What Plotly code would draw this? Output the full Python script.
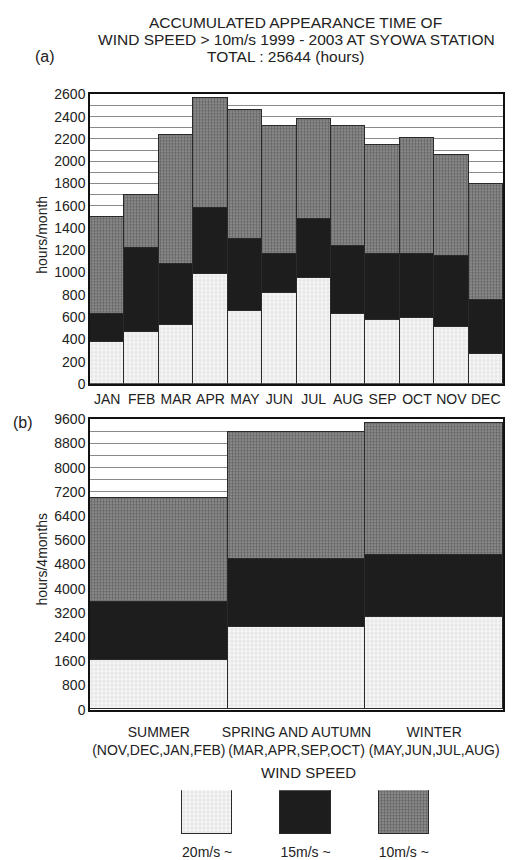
import plotly.graph_objects as go

# ---------------- data ----------------
months = ["JAN", "FEB", "MAR", "APR", "MAY", "JUN", "JUL", "AUG", "SEP", "OCT", "NOV", "DEC"]
m_20 = [375, 463, 522, 985, 650, 810, 952, 624, 574, 586, 509, 264]
m_15 = [250, 757, 548, 595, 644, 355, 527, 612, 591, 579, 633, 483]
m_10 = [869, 477, 1159, 982, 1165, 1147, 895, 1077, 978, 1040, 908, 1048]

seasons = ["SUMMER<br>(NOV,DEC,JAN,FEB)",
           "SPRING AND AUTUMN<br>(MAR,APR,SEP,OCT)",
           "WINTER<br>(MAY,JUN,JUL,AUG)"]
s_20 = [1635, 2717, 3042]
s_15 = [1905, 2273, 2068]
s_10 = [3460, 4168, 4351]

speed_labels = ["20m/s ~", "15m/s ~", "10m/s ~"]
legend_height = [1, 1, 1]

# ---------------- styles ----------------
W, H = 527, 860
FONT = "Liberation Sans, Arial, sans-serif"
TXT = "#222222"
EDGE = dict(color="#2a2a2a", width=1)

def m20():
    return dict(color="#f2f2f2", line=EDGE,
                pattern=dict(shape="+", fgcolor="#a8a8a8", bgcolor="#f6f6f6",
                             size=4, solidity=0.2))

def m15():
    return dict(color="#1d1d1d", line=EDGE)

def m10():
    return dict(color="#858585", line=EDGE,
                pattern=dict(shape=".", fgcolor="#333333", bgcolor="#939393",
                             size=3, solidity=0.5))

def px_x(p):
    return p / W

def px_y(p):
    return 1 - p / H

fig = go.Figure()

# panel (a)
for vals, mk in ((m_20, m20()), (m_15, m15()), (m_10, m10())):
    fig.add_trace(go.Bar(x=months, y=vals, marker=mk, xaxis="x", yaxis="y",
                         showlegend=False, hoverinfo="skip"))
# panel (b)
for vals, mk in ((s_20, m20()), (s_15, m15()), (s_10, m10())):
    fig.add_trace(go.Bar(x=seasons, y=vals, marker=mk, xaxis="x2", yaxis="y2",
                         showlegend=False, hoverinfo="skip"))
# legend swatches
for i, mk in enumerate((m20(), m15(), m10())):
    fig.add_trace(go.Bar(x=[speed_labels[i]], y=[legend_height[i]], marker=mk,
                         width=0.51, xaxis="x3", yaxis="y3",
                         showlegend=False, hoverinfo="skip"))

axis_common = dict(showline=True, linecolor="#111111", linewidth=1.5, mirror=True,
                   tickfont=dict(family=FONT, size=14, color=TXT), zeroline=False)

fig.update_layout(
    width=W, height=H,
    margin=dict(l=0, r=0, t=0, b=0),
    paper_bgcolor="white", plot_bgcolor="white",
    barmode="stack", bargap=0,
    font=dict(family=FONT, color=TXT),
    xaxis=dict(domain=[px_x(90), px_x(503)], anchor="y", range=[-0.5, 11.5],
               ticks="", tickangle=0, ticklabelstandoff=2, showgrid=False, **axis_common),
    yaxis=dict(domain=[px_y(383), px_y(88)], anchor="x", range=[0, 2600],
               dtick=200, ticks="", showgrid=True, gridcolor="#8a8a8a", gridwidth=1,
               minor=dict(dtick=100, showgrid=True, gridcolor="#8a8a8a", gridwidth=1),
               **axis_common),
    xaxis2=dict(domain=[px_x(90), px_x(503)], anchor="y2", range=[-0.5, 2.5],
                ticks="", tickangle=0, ticklabelstandoff=9, showgrid=False, **axis_common),
    yaxis2=dict(domain=[px_y(715), px_y(419)], anchor="x2", range=[0, 9600],
                dtick=800, ticks="", showgrid=True, gridcolor="#8a8a8a", gridwidth=1,
                minor=dict(dtick=400, showgrid=True, gridcolor="#8a8a8a", gridwidth=1),
                **axis_common),
    xaxis3=dict(domain=[px_x(158), px_x(453)], anchor="y3", range=[-0.5, 2.5],
                showline=False, ticks="", tickangle=0, ticklabelstandoff=8,
                showgrid=False, zeroline=False,
                tickfont=dict(family=FONT, size=14, color=TXT)),
    yaxis3=dict(domain=[px_y(842), px_y(797)], anchor="x3", range=[0, 1],
                visible=False),
)

ann = [
    dict(text="ACCUMULATED APPEARANCE TIME OF", x=px_x(295), y=px_y(15), size=15.5),
    dict(text="WIND SPEED &gt; 10m/s 1999 - 2003 AT SYOWA STATION", x=px_x(296), y=px_y(32), size=15.5),
    dict(text="TOTAL : 25644 (hours)", x=px_x(285), y=px_y(49), size=15.5),
    dict(text="(a)", x=px_x(45), y=px_y(49), size=16),
    dict(text="(b)", x=px_x(23), y=px_y(422), size=16),
    dict(text="WIND SPEED", x=px_x(308), y=px_y(779), size=15),
]
for a in ann:
    fig.add_annotation(text=a["text"], x=a["x"], y=a["y"], xref="paper", yref="paper",
                       showarrow=False, xanchor="center", yanchor="middle",
                       font=dict(family=FONT, size=a["size"], color=TXT))

fig.add_annotation(text="hours/month", x=px_x(42), y=px_y(231), xref="paper", yref="paper",
                   showarrow=False, textangle=-90, xanchor="center", yanchor="middle",
                   font=dict(family=FONT, size=14, color=TXT))
fig.add_annotation(text="hours/4months", x=px_x(42), y=px_y(562), xref="paper", yref="paper",
                   showarrow=False, textangle=-90, xanchor="center", yanchor="middle",
                   font=dict(family=FONT, size=14, color=TXT))

fig.write_html("out.html")
